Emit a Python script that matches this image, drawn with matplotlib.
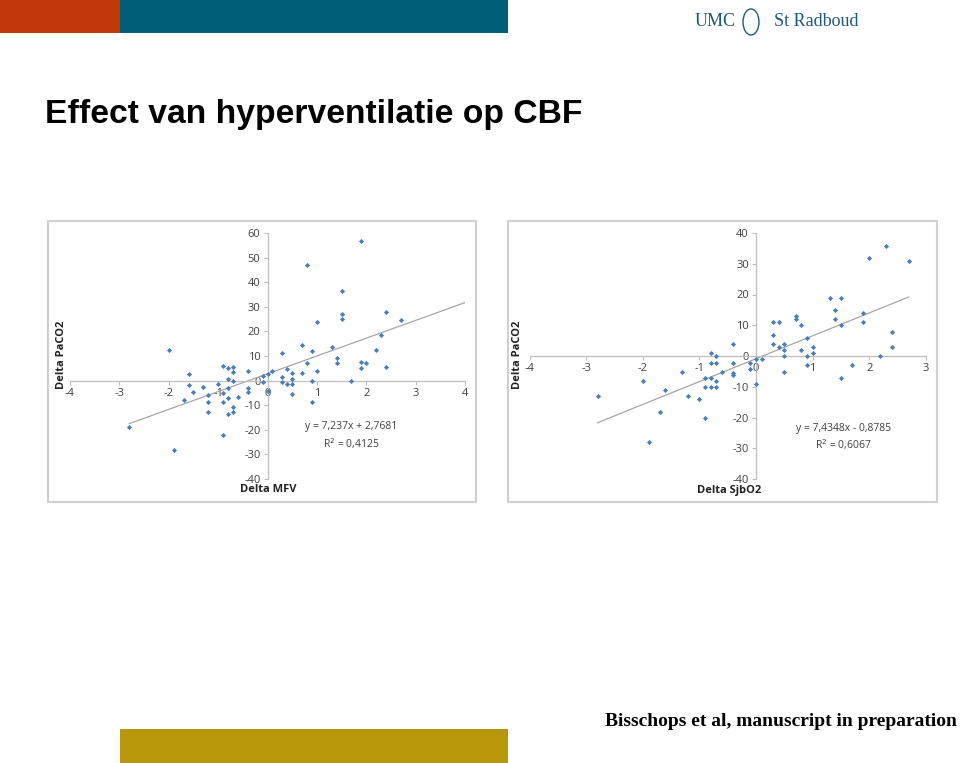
import matplotlib
matplotlib.use("Agg")
import matplotlib.pyplot as plt
from matplotlib.patches import Rectangle, Ellipse
import numpy as np

# Left chart: Delta MFV vs Delta PaCO2
mfv_x = [-2.8, -2.0, -1.9, -1.7, -1.6, -1.6, -1.5, -1.3, -1.2, -1.2, -1.2, -1.0,
         -0.9, -0.9, -0.9, -0.9, -0.8, -0.8, -0.8, -0.8, -0.8,
         -0.7, -0.7, -0.7, -0.7, -0.7, -0.6, -0.4, -0.4, -0.4,
         -0.1, -0.1, 0.0, 0.0, 0.1, 0.3, 0.3, 0.3, 0.4, 0.4,
         0.5, 0.5, 0.5, 0.5, 0.7, 0.7, 0.8, 0.8, 0.9, 0.9, 0.9,
         1.0, 1.0, 1.3, 1.4, 1.4, 1.5, 1.5, 1.5, 1.7, 1.9, 1.9, 1.9,
         2.0, 2.2, 2.3, 2.4, 2.4, 2.7]
mfv_y = [-18.9, 12.3, -28.1, -8.0, 2.7, -1.6, -4.7, -2.6, -6.0, -8.7, -12.6, -1.5,
         6.1, -5.1, -8.5, -22.1, 5.0, 0.7, -3.1, -7.2, -13.5,
         5.7, 3.5, -0.3, -10.6, -12.9, -6.5, 3.9, -3.0, -4.5,
         2.0, -0.5, 2.6, -4.1, 3.9, 11.2, 1.5, -0.7, 4.7, -1.5,
         3.1, 0.7, -1.2, -5.5, 14.3, 3.0, 47.1, 7.0, 11.9, -0.3, -8.7,
         24.0, 3.7, 13.7, 9.1, 7.3, 36.3, 26.9, 25.0, -0.1, 56.8, 7.4, 5.3,
         7.3, 12.6, 18.7, 28.0, 5.4, 24.6]
mfv_fit = (7.237, 2.7681)
mfv_fit_range = (-2.8, 4.0)

# Right chart: Delta SjbO2 vs Delta PaCO2
sjb_x = [-2.8, -2.0, -1.9, -1.7, -1.6, -1.3, -1.2, -1.0, -0.9, -0.9, -0.9,
         -0.8, -0.8, -0.8, -0.8, -0.7, -0.7, -0.7, -0.7, -0.6,
         -0.4, -0.4, -0.4, -0.4, -0.1, -0.1, 0.0, 0.0, 0.1,
         0.3, 0.3, 0.3, 0.4, 0.4, 0.5, 0.5, 0.5, 0.5, 0.7, 0.7,
         0.8, 0.8, 0.9, 0.9, 0.9, 1.0, 1.0, 1.3, 1.4, 1.4,
         1.5, 1.5, 1.5, 1.7, 1.9, 1.9, 2.0, 2.2, 2.3, 2.4, 2.4, 2.7]
sjb_y = [-13.1, -8.1, -28.1, -18.1, -11.0, -5.1, -13.1, -14.1, -7.1, -10.1, -20.0,
         1.0, -2.2, -7.1, -10.1, -0.1, -2.2, -8.1, -10.1, -5.1,
         4.0, -2.2, -5.5, -6.2, -2.2, -4.1, -1.1, -9.1, -1.1,
         10.9, 6.9, 4.0, 10.9, 2.9, 4.0, 1.9, -0.1, -5.1, 12.9, 12.0,
         10.0, 1.9, 6.0, -0.1, -3.0, 2.9, 1.0, 18.9, 14.9, 12.0,
         18.9, 10.0, -7.0, -3.0, 14.0, 10.9, 31.9, -0.1, 35.9, 7.9, 2.9, 31.0]
sjb_fit = (7.4348, -0.8785)
sjb_fit_range = (-2.8, 2.7)

W, H = 960, 763
plt.rcParams['font.family'] = ['Open Sans', 'DejaVu Sans']
plt.rcParams['axes.unicode_minus'] = False
fig = plt.figure(figsize=(W / 100, H / 100), dpi=100)


def px(x0, y0, x1, y1):
    # pixel box -> figure fraction [left, bottom, width, height]
    return [x0 / W, 1 - y1 / H, (x1 - x0) / W, (y1 - y0) / H]


def scatter_panel(rect, xs, ys, fit, fit_range, xlim, ylim, yticks, eq, eq_pos):
    ax = fig.add_axes(rect)
    ax.set_xlim(*xlim)
    ax.set_ylim(*ylim)
    ax.patch.set_alpha(0)
    for s in ("top", "right"):
        ax.spines[s].set_visible(False)
    ax.spines["left"].set_position(("data", 0))
    ax.spines["bottom"].set_position(("data", 0))
    for s in ("left", "bottom"):
        ax.spines[s].set_color("#BFBFBF")
        ax.spines[s].set_linewidth(0.9)
    ax.set_xticks(range(xlim[0], xlim[1] + 1))
    ax.set_yticks(yticks)
    ax.tick_params(direction="out", length=3, color="#BFBFBF",
                   labelsize=8, labelcolor="#404040", pad=2)
    fx = np.array(fit_range)
    ax.plot(fx, fit[0] * fx + fit[1], color="#A6A6A6", lw=0.9, zorder=2)
    ax.scatter(xs, ys, marker="D", s=7, color="#4A7EBB", linewidths=0, zorder=3)
    ax.text(eq_pos[0], eq_pos[1], eq, transform=ax.transAxes, ha="center",
            va="top", fontsize=7.5, color="#404040", linespacing=1.3)
    return ax


ax1 = scatter_panel(px(70, 233, 465, 479), mfv_x, mfv_y, mfv_fit, mfv_fit_range,
                    (-4, 4), (-40, 60), range(-40, 61, 10),
                    "y = 7,237x + 2,7681\nR$^2$ = 0,4125", (0.712, 0.235))
ax2 = scatter_panel(px(529.7, 233, 925.7, 479), sjb_x, sjb_y, sjb_fit, sjb_fit_range,
                    (-4, 3), (-40, 40), range(-40, 41, 10),
                    "y = 7,4348x - 0,8785\nR$^2$ = 0,6067", (0.792, 0.227))

# chart frames
for x0, x1 in [(48, 476), (508, 937)]:
    fig.patches.append(Rectangle((x0 / W, 1 - 502 / H), (x1 - x0) / W, 281 / H,
                                 transform=fig.transFigure, fill=False,
                                 edgecolor="#D0D0D0", lw=1.5))

# axis titles
lab = dict(fontsize=8, fontweight="bold", color="#222222")
fig.text(62 / W, 1 - 355 / H, "Delta PaCO2", rotation=90, ha="center", va="center", **lab)
fig.text(268 / W, 1 - 490 / H, "Delta MFV", ha="center", va="center", **lab)
fig.text(518 / W, 1 - 355 / H, "Delta PaCO2", rotation=90, ha="center", va="center", **lab)
fig.text(729 / W, 1 - 490 / H, "Delta SjbO2", ha="center", va="center", **lab)

# slide decoration
fig.patches.append(Rectangle((0, 1 - 33 / H), 120 / W, 33 / H, transform=fig.transFigure,
                             color="#C0390B", lw=0))
fig.patches.append(Rectangle((120 / W, 1 - 33 / H), 388 / W, 33 / H,
                             transform=fig.transFigure, color="#005F78", lw=0))
fig.patches.append(Rectangle((120 / W, 0), 388 / W, 34 / H, transform=fig.transFigure,
                             color="#B8960A", lw=0))

logo = dict(family="Liberation Serif", fontsize=13, color="#1E5A78", va="center")
fig.text(695 / W, 1 - 22 / H, "UMC", ha="left", **logo)
fig.text(858 / W, 1 - 22 / H, "St Radboud", ha="right", **logo)
fig.patches.append(Ellipse((751 / W, 1 - 22 / H), 16 / W, 26 / H,
                           transform=fig.transFigure, fill=False,
                           edgecolor="#1E5A78", lw=1))

fig.text(45 / W, 1 - 115 / H, "Effect van hyperventilatie op CBF",
         family="Liberation Sans", fontweight="bold", fontsize=24.2,
         ha="left", va="center", color="black")
fig.text(957 / W, 1 - 721 / H, "Bisschops et al, manuscript in preparation",
         family="Liberation Serif", fontweight="bold", fontsize=14,
         ha="right", va="center", color="black")

fig.savefig("out.png", dpi=100)
